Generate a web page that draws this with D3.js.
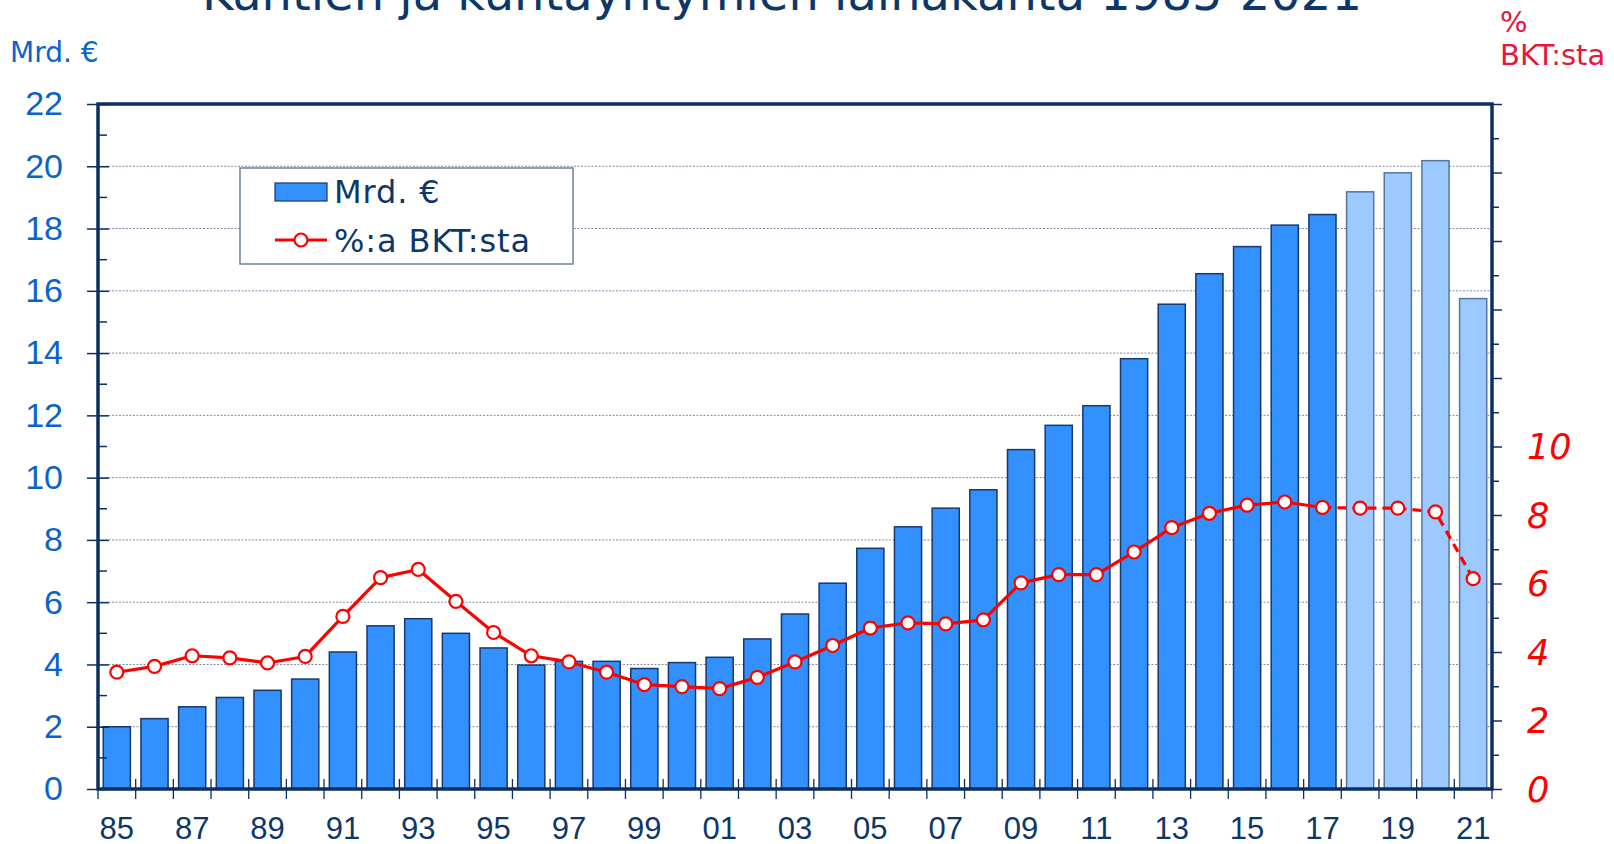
<!DOCTYPE html>
<html>
<head>
<meta charset="utf-8">
<script src="https://cdn.jsdelivr.net/npm/d3@7"></script>
<style>
	body { margin: 0; background: #fff; }
	svg { display: block; font-family: 'DejaVu Sans', Verdana, sans-serif; }
</style>
</head>
<body>
<div id="chart"></div>
<script>
var width = 1614;
var height = 844;

// plot frame
var plot = { left: 98, right: 1492, top: 104, bottom: 789 };

var title = 'Kuntien ja kuntayhtymien lainakanta 1985-2021';
var leftAxisLabel = 'Mrd. €';
var rightAxisLabel = ['%', 'BKT:sta'];
var legendLabels = ['Mrd. €', '%:a BKT:sta'];

var years = [1985, 1986, 1987, 1988, 1989, 1990, 1991, 1992, 1993, 1994,
	1995, 1996, 1997, 1998, 1999, 2000, 2001, 2002, 2003, 2004,
	2005, 2006, 2007, 2008, 2009, 2010, 2011, 2012, 2013, 2014,
	2015, 2016, 2017, 2018, 2019, 2020, 2021];

// loan stock, bn euro
var loanStock = [2.0, 2.26, 2.64, 2.94, 3.17, 3.53, 4.40, 5.24, 5.47, 5.0,
	4.53, 3.98, 4.10, 4.10, 3.87, 4.06, 4.23, 4.82, 5.62, 6.61,
	7.73, 8.42, 9.02, 9.61, 10.9, 11.68, 12.31, 13.82, 15.57, 16.55,
	17.42, 18.11, 18.45, 19.18, 19.79, 20.18, 15.75];

// share of GDP, %
var gdpShare = [3.41, 3.58, 3.89, 3.83, 3.68, 3.87, 5.04, 6.17, 6.41, 5.48,
	4.57, 3.89, 3.71, 3.41, 3.05, 2.99, 2.93, 3.26, 3.71, 4.19,
	4.70, 4.85, 4.82, 4.94, 6.02, 6.26, 6.26, 6.92, 7.63, 8.05,
	8.29, 8.38, 8.22, 8.20, 8.20, 8.09, 6.14];

var lastActual = 2017;
var xTickYears = [1985, 1987, 1989, 1991, 1993, 1995, 1997, 1999, 2001, 2003,
	2005, 2007, 2009, 2011, 2013, 2015, 2017, 2019, 2021];
var leftTicks = [0, 2, 4, 6, 8, 10, 12, 14, 16, 18, 20, 22];
var rightTickLabels = [0, 2, 4, 6, 8, 10];

var colors = {
	navy: '#0c2f62',
	bar: '#3391ff',
	barStroke: '#18386a',
	forecast: '#9cc9ff',
	forecastStroke: '#56759f',
	grid: '#7d8ca6',
	leftText: '#0a63c9',
	rightText: '#ff0000',
	rightLabel: '#e8163c',
	line: '#ff0000',
	text: '#0d3768'
};

var data = years.map(function(y, i) {
	return { year: y, loan: loanStock[i], share: gdpShare[i] };
});

var svg = d3.select('#chart').append('svg')
	.attr('width', width)
	.attr('height', height);

var x = d3.scaleBand()
	.domain(years)
	.range([plot.left, plot.right])
	.paddingInner(0.28)
	.paddingOuter(0.14);

var yLeft = d3.scaleLinear()
	.domain([0, 22])
	.range([plot.bottom, plot.top]);

var yRight = d3.scaleLinear()
	.domain([0, 20])
	.range([plot.bottom, plot.top]);

// gridlines
svg.append('g')
	.selectAll('line')
	.data(leftTicks.filter(function(d) { return d > 0 && d < 22; }))
	.join('line')
	.attr('x1', plot.left)
	.attr('x2', plot.right)
	.attr('y1', function(d) { return yLeft(d); })
	.attr('y2', function(d) { return yLeft(d); })
	.attr('stroke', colors.grid)
	.attr('stroke-width', 1)
	.attr('stroke-dasharray', '2,1.5');

// bars
svg.append('g')
	.selectAll('rect')
	.data(data)
	.join('rect')
	.attr('x', function(d) { return x(d.year); })
	.attr('y', function(d) { return yLeft(d.loan); })
	.attr('width', x.bandwidth())
	.attr('height', function(d) { return yLeft(0) - yLeft(d.loan); })
	.attr('fill', function(d) { return d.year > lastActual ? colors.forecast : colors.bar; })
	.attr('stroke', function(d) { return d.year > lastActual ? colors.forecastStroke : colors.barStroke; })
	.attr('stroke-width', 1.5);

// line, solid for actual and dashed for estimates
var line = d3.line()
	.x(function(d) { return x(d.year) + x.bandwidth() / 2; })
	.y(function(d) { return yRight(d.share); });

svg.append('path')
	.datum(data.filter(function(d) { return d.year <= lastActual; }))
	.attr('fill', 'none')
	.attr('stroke', colors.line)
	.attr('stroke-width', 3.2)
	.attr('stroke-linejoin', 'round')
	.attr('d', line);

svg.append('path')
	.datum(data.filter(function(d) { return d.year >= lastActual; }))
	.attr('fill', 'none')
	.attr('stroke', colors.line)
	.attr('stroke-width', 3.2)
	.attr('stroke-dasharray', '9,6')
	.attr('d', line);

svg.append('g')
	.selectAll('circle')
	.data(data)
	.join('circle')
	.attr('cx', function(d) { return x(d.year) + x.bandwidth() / 2; })
	.attr('cy', function(d) { return yRight(d.share); })
	.attr('r', 6.5)
	.attr('fill', '#fff')
	.attr('stroke', colors.line)
	.attr('stroke-width', 2.2);

// left axis
var leftAxis = d3.axisLeft(yLeft)
	.tickValues(leftTicks)
	.tickSize(11)
	.tickPadding(24);

var gLeft = svg.append('g')
	.attr('transform', 'translate(' + plot.left + ',0)')
	.call(leftAxis);
gLeft.select('.domain').remove();
gLeft.selectAll('.tick line')
	.attr('x2', -11)
	.attr('x1', 11)
	.attr('stroke', colors.navy)
	.attr('stroke-width', 1.5);
gLeft.selectAll('.tick text')
	.attr('fill', colors.leftText)
	.style('font-size', '34px');

var leftMinor = yLeft.ticks(22).filter(function(d) { return d % 2 === 1; });
svg.append('g')
	.selectAll('line')
	.data(leftMinor)
	.join('line')
	.attr('x1', plot.left)
	.attr('x2', plot.left + 9)
	.attr('y1', function(d) { return yLeft(d); })
	.attr('y2', function(d) { return yLeft(d); })
	.attr('stroke', colors.navy)
	.attr('stroke-width', 1.5);

// right axis
var rightAxis = d3.axisRight(yRight)
	.tickValues(yRight.ticks(20))
	.tickSize(7)
	.tickFormat('');

var gRight = svg.append('g')
	.attr('transform', 'translate(' + plot.right + ',0)')
	.call(rightAxis);
gRight.select('.domain').remove();
gRight.selectAll('.tick line')
	.attr('x2', function(d) { return d % 2 === 0 ? 10 : 7; })
	.attr('stroke', colors.navy)
	.attr('stroke-width', 1.5);

svg.append('g')
	.selectAll('text')
	.data(rightTickLabels)
	.join('text')
	.attr('x', plot.right + 35)
	.attr('y', function(d) { return yRight(d); })
	.attr('dy', '0.36em')
	.attr('fill', colors.rightText)
	.style('font-size', '35px')
	.style('font-style', 'italic')
	.text(function(d) { return d; });

// x axis labels and category boundary ticks
var xAxis = d3.axisBottom(x)
	.tickValues(xTickYears)
	.tickSize(0)
	.tickPadding(28)
	.tickFormat(function(d) { return String(d).slice(2); });

var gX = svg.append('g')
	.attr('transform', 'translate(0,' + plot.bottom + ')')
	.call(xAxis);
gX.select('.domain').remove();
gX.selectAll('.tick text')
	.attr('fill', colors.text)
	.style('font-size', '31px');

var boundaries = years.map(function(d) { return x(d) - x.step() * 0.14; });
boundaries.push(plot.right);
svg.append('g')
	.selectAll('line')
	.data(boundaries)
	.join('line')
	.attr('x1', function(d) { return d; })
	.attr('x2', function(d) { return d; })
	.attr('y1', plot.bottom - 10)
	.attr('y2', plot.bottom + 10)
	.attr('stroke', colors.navy)
	.attr('stroke-width', 1.3);

// frame
svg.append('rect')
	.attr('x', plot.left)
	.attr('y', plot.top)
	.attr('width', plot.right - plot.left)
	.attr('height', plot.bottom - plot.top)
	.attr('fill', 'none')
	.attr('stroke', colors.navy)
	.attr('stroke-width', 3.5);

// titles
svg.append('text')
	.attr('x', 782)
	.attr('y', 10)
	.attr('text-anchor', 'middle')
	.attr('fill', colors.text)
	.style('font-size', '48px')
	.text(title);

svg.append('text')
	.attr('x', 10)
	.attr('y', 62)
	.attr('fill', colors.leftText)
	.style('font-size', '28px')
	.text(leftAxisLabel);

svg.append('g')
	.selectAll('text')
	.data(rightAxisLabel)
	.join('text')
	.attr('x', 1500)
	.attr('y', function(d, i) { return 32 + i * 33; })
	.attr('fill', colors.rightLabel)
	.style('font-size', '29px')
	.text(function(d) { return d; });

// legend
var legend = svg.append('g').attr('transform', 'translate(240,168)');
legend.append('rect')
	.attr('width', 333)
	.attr('height', 96)
	.attr('fill', '#fff')
	.attr('stroke', '#6c7f9f')
	.attr('stroke-width', 1.5);
legend.append('rect')
	.attr('x', 35)
	.attr('y', 15)
	.attr('width', 52)
	.attr('height', 18)
	.attr('fill', colors.bar)
	.attr('stroke', colors.barStroke)
	.attr('stroke-width', 1.2);
legend.append('line')
	.attr('x1', 35)
	.attr('x2', 87)
	.attr('y1', 72)
	.attr('y2', 72)
	.attr('stroke', colors.line)
	.attr('stroke-width', 3.2);
legend.append('circle')
	.attr('cx', 61)
	.attr('cy', 72)
	.attr('r', 6.5)
	.attr('fill', '#fff')
	.attr('stroke', colors.line)
	.attr('stroke-width', 2.2);
legend.selectAll('text.label')
	.data(legendLabels)
	.join('text')
	.attr('class', 'label')
	.attr('x', 94)
	.attr('y', function(d, i) { return 35 + i * 49; })
	.attr('fill', colors.text)
	.style('font-size', '32px')
	.style('letter-spacing', '0.9px')
	.text(function(d) { return d; });
</script>
</body>
</html>
